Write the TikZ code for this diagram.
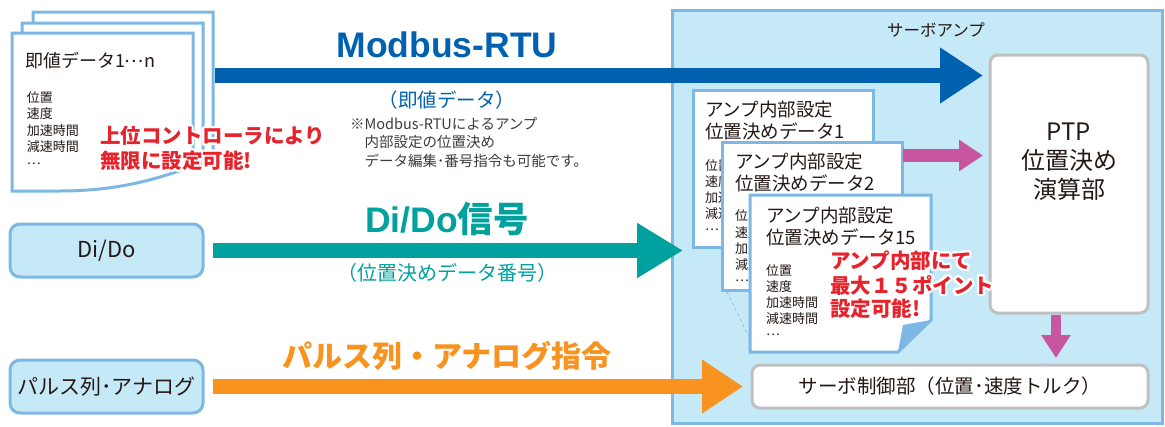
\documentclass[tikz,border=0pt]{standalone}
\usepackage{fontspec}
\setmainfont{Noto Sans CJK JP}
\newfontfamily\latinb{Liberation Sans}
\usepackage{contour}
\contourlength{2.2pt}
\contournumber{24}
\usetikzlibrary{arrows.meta,calc}
\definecolor{modblue}{HTML}{0061AE}
\definecolor{tealc}{HTML}{00A19E}
\definecolor{orangec}{HTML}{F7931E}
\definecolor{pinkc}{HTML}{C8559F}
\definecolor{lightfill}{HTML}{C6E9F8}
\definecolor{bordblue}{HTML}{7CB8E3}
\definecolor{grayb}{HTML}{BFC0C2}
\definecolor{redc}{HTML}{E8222B}
\definecolor{ink}{HTML}{231815}
\definecolor{notegray}{HTML}{3E3A39}
\newcommand\fsz[2]{\fontsize{#1}{#2}\selectfont}
\newcommand\mdots{\raisebox{0.32em}{…}}
\begin{document}
\begin{tikzpicture}[x=1pt,y=-1pt,
  every node/.style={inner sep=0pt,outer sep=0pt,text=ink},
  ampbox/.style={draw=bordblue,fill=lightfill,line width=3pt},
  grayrbox/.style={draw=grayb,fill=white,line width=3pt,rounded corners=8pt},
  bluerbox/.style={draw=bordblue,fill=lightfill,line width=3pt,rounded corners=10pt},
  docbox/.style={draw=bordblue,fill=white,line width=3pt},
  docline/.style={draw=bordblue,fill=white,line width=3pt,line join=miter},
  lefttxt/.style={anchor=west,align=left},
  redtxt/.style={anchor=west,text=redc,font=\bfseries},
  fatarrow/.style={line width=#1},
]
\path[use as bounding box] (0,0) rectangle (1165,426);

% ---------- servo amplifier frame ----------
\node[ampbox,minimum width=490,minimum height=413] (amp) at (917,216.5) {};
\node[font=\fsz{16.5}{20}] (amptitle) at (936,30) {サーボアンプ};

\node[grayrbox,minimum width=158,minimum height=258] (ptp) at (1069,184) {};
\node[align=center,font=\fsz{24}{29}] (ptptext) at (1069,162) {PTP\\位置決め\\演算部};

\node[grayrbox,minimum width=396,minimum height=43,font=\fsz{19.5}{22}] (servo) at (950,386.5) {サーボ制御部（位置･速度トルク）};

% ---------- internal data sheets ----------
\node[docbox,minimum width=180,minimum height=157] (doc1) at (783,168.5) {};
\node[lefttxt,font=\fsz{18.5}{22}] (d1t) at (705,120) {アンプ内部設定\\位置決めデータ1};
\node[lefttxt,font=\fsz{13}{16}] (d1s) at (705,197) {位置\\速度\\加速時間\\減速時間\\\mdots};

\node[docbox,minimum width=180,minimum height=148] (doc2) at (812,216) {};
\node[lefttxt,font=\fsz{18.5}{22}] (d2t) at (735,172.5) {アンプ内部設定\\位置決めデータ2};
\node[lefttxt,font=\fsz{13}{16.25}] (d2s) at (735,248) {位置\\速度\\加速時間\\減速時間\\\mdots};

\path[docline] (750,195) -- (931,195) -- (931,320) -- (898,352) -- (750,352) -- cycle;
\fill[bordblue] (898,352) -- (931,320) -- (903,325) -- cycle;
\node[lefttxt,font=\fsz{18.5}{22}] (d3t) at (766,226) {アンプ内部設定\\位置決めデータ15};
\node[lefttxt,font=\fsz{13}{16}] (d3s) at (766,302) {位置\\速度\\加速時間\\減速時間\\\mdots};
\draw[bordblue,dashed,line width=0.7pt] (727,292) -- (749,337);

\node[redtxt,font=\bfseries\fsz{20.5}{24}] (r1) at (830,262) {\contour{white}{アンプ内部にて}};
\node[redtxt,font=\bfseries\fsz{20.5}{24}] (r2) at (830,286.5) {\contour{white}{最大１５ポイント}};
\node[redtxt,font=\bfseries\fsz{20.5}{24}] (r3) at (830,310) {\contour{white}{設定可能!}};

% ---------- left document stack ----------
\path[docline] (33,12) -- (213,12) -- (213,160) .. controls (180,170) and (150,178) .. (90,178) -- (33,178) -- cycle;
\path[docline] (22,23) -- (203,23) -- (203,163) .. controls (170,174) and (140,184) .. (80,184) -- (22,184) -- cycle;
\path[docline] (12,33) -- (193,33) -- (193,166) .. controls (160,178) and (120,191) .. (60,191) -- (12,191) -- cycle;
\node[lefttxt,font=\fsz{18}{22}] (sokuchi) at (25,61) {即値データ1\mdots n};
\node[lefttxt,font=\fsz{13}{16.5}] (sokuchilist) at (27,130) {位置\\速度\\加速時間\\減速時間\\\mdots};
\node[redtxt,font=\bfseries\fsz{20.5}{24}] (l1) at (100,137) {\contour{white}{上位コントローラにより}};
\node[redtxt,font=\bfseries\fsz{20.5}{24}] (l2) at (100,162) {\contour{white}{無限に設定可能!}};

% ---------- left source boxes ----------
\node[bluerbox,minimum width=193,minimum height=53,font=\fsz{22}{24}] (dido) at (106.5,250.5) {Di/Do};
\node[bluerbox,minimum width=193,minimum height=53,font=\fsz{21}{24}] (pulse) at (106.5,386.5) {パルス列･アナログ};

% ---------- labels ----------
\node[text=modblue,font=\latinb\bfseries\fsz{35.5}{40}] (modt) at (447,45) {Modbus-RTU};
\node[text=modblue,font=\fsz{19.5}{22}] (modsub) at (447,100) {（即値データ）};
\node[lefttxt,text=notegray,font=\fsz{14.5}{18.2}] (modnote) at (350,142.5) {※Modbus-RTUによるアンプ\\\hspace{1em}内部設定の位置決め\\\hspace{1em}データ編集･番号指令も可能です。};

\node[text=tealc,font=\bfseries\fsz{35.5}{40}] (didot) at (447,219) {{\latinb Di/Do}信号};
\node[text=tealc,font=\fsz{20}{22}] (didosub) at (447,273) {（位置決めデータ番号）};

\node[text=orangec,font=\bfseries\fsz{30}{34}] (pulset) at (447,356) {パルス列・アナログ指令};

% ---------- arrows ----------
\coordinate (stackR) at (215,75.5);
\coordinate (didotip) at (683,250.5);
\coordinate (pinkstart) at (903,155.5);
\coordinate (pdown) at (1056,314.5);

\draw[modblue,fatarrow=15pt,-{Triangle[length=43pt,width=53pt]}] (stackR) -- ($(ptp.west |- stackR)+(-7,0)$);
\draw[tealc,fatarrow=15pt,-{Triangle[length=46pt,width=52pt]}] ([xshift=10pt]dido.east) -- (didotip);
\draw[orangec,fatarrow=15pt,-{Triangle[length=41pt,width=51pt]}] ([xshift=10pt]pulse.east) -- ([xshift=-9pt]servo.west);
\draw[pinkc,fatarrow=13pt,-{Triangle[length=24pt,width=30pt]}] (pinkstart) -- ($(ptp.west |- pinkstart)+(-7,0)$);
\draw[pinkc,fatarrow=10.5pt,-{Triangle[length=23pt,width=28pt]}] (pdown) -- ($(servo.north -| pdown)+(0,-7)$);
\end{tikzpicture}
\end{document}
